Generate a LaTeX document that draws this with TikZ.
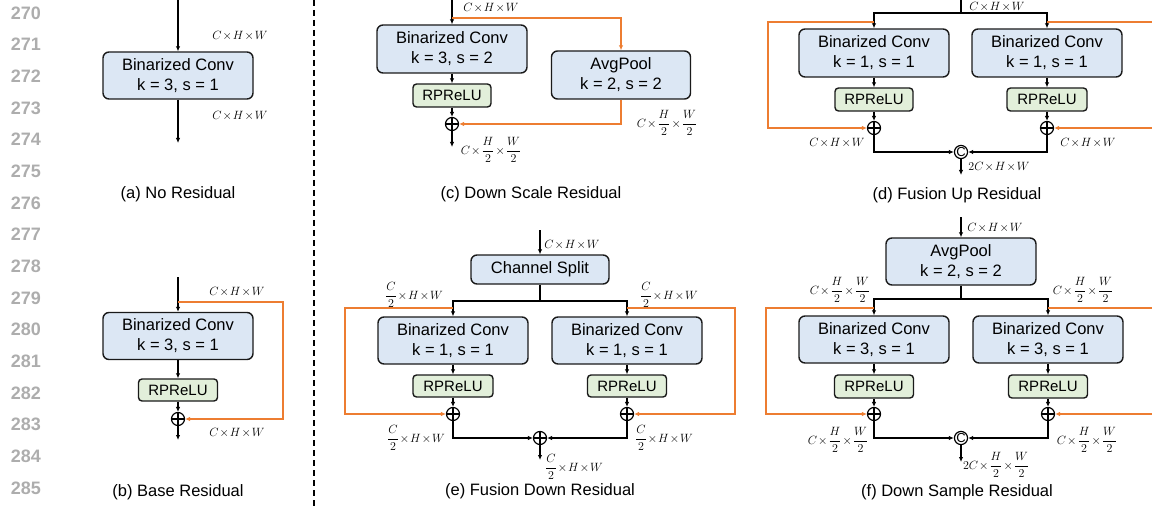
\documentclass[tikz,border=0pt]{standalone}
\usepackage{amsmath}
\usepackage{fontspec}
\setmainfont{Liberation Sans}
\usetikzlibrary{arrows.meta}
\definecolor{boxblue}{HTML}{DCE7F4}
\definecolor{boxgreen}{HTML}{E2EFDA}
\definecolor{orng}{HTML}{ED7D31}
\definecolor{edge}{HTML}{1A1A1A}
\newcommand\mytimes{\mkern1.5mu{\times}\mkern1.5mu}
\newcommand\dimCHW{$C\mytimes H\mytimes W$}
\newcommand\dimHalfC{$\dfrac{C}{2}\mytimes H\mytimes W$}
\newcommand\dimHalfHW{$C\mytimes\dfrac{H}{2}\mytimes\dfrac{W}{2}$}
\tikzset{
  conv/.style={draw=edge, fill=boxblue, rounded corners=6pt, line width=1.4pt, minimum width=150pt, minimum height=47pt, align=center, inner sep=0pt, font=\fontsize{16.5}{20}\selectfont},
  act/.style={draw=edge, fill=boxgreen, rounded corners=3.5pt, line width=1.4pt, minimum width=79pt, minimum height=22pt, inner sep=0pt, font=\fontsize{15}{18}\selectfont},
  addop/.style={circle, draw=black, line width=1.2pt, minimum size=13pt, inner sep=0pt,
    path picture={\draw[line width=1.2pt] (path picture bounding box.north) -- (path picture bounding box.south) (path picture bounding box.west) -- (path picture bounding box.east);}},
  catop/.style={circle, draw=black, line width=1.2pt, minimum size=13pt, inner sep=0pt, font=\fontsize{13}{13}\selectfont},
  arr/.style={-{Latex[length=5pt,width=4.5pt]}, line width=1.1pt, draw=black},
  plain/.style={line width=1.1pt, draw=black},
  oarr/.style={-{Latex[length=5pt,width=4.5pt]}, line width=1.3pt, draw=orng},
  oline/.style={line width=1.3pt, draw=orng},
  dim/.style={inner sep=0pt, font=\fontsize{12}{13}\selectfont},
  capt/.style={inner sep=0pt, font=\fontsize{16.5}{19}\selectfont},
  lnum/.style={inner sep=0pt, font=\fontsize{18}{20}\selectfont\bfseries, text=black!32},
}
\begin{document}
\begin{tikzpicture}[x=1pt,y=-1pt]
\path[use as bounding box] (0,0) rectangle (1152,508);
\clip (0,0) rectangle (1152,508);

% line numbers
\foreach \i in {0,...,15}{
  \pgfmathtruncatemacro\n{270+\i}
  \node[lnum] (ln\i) at (26,{13+31.67*\i}) {\n};
}

% divider
\draw[line width=1.2pt, dash pattern=on 6pt off 4pt] (314,0) -- (314,508);

% ---------- (a) ----------
\coordinate (aIn) at (178,0);
\coordinate (aOut) at (178,143);
\node[conv] (a1) at (178,75.5) {Binarized Conv\\k = 3, s = 1};
\draw[arr] (aIn) -- (a1);
\draw[arr] (a1) -- (aOut);
\node[dim] (aL1) at (240,36) {\dimCHW};
\node[dim] (aL2) at (240,116) {\dimCHW};
\node[capt] (aC) at (178,194) {(a) No Residual};

% ---------- (b) ----------
\coordinate (bIn) at (178,277);
\coordinate (bB) at (178,302);
\coordinate (bX) at (283,302);
\coordinate (bOut) at (178,440);
\node[conv] (b1) at (178,336) {Binarized Conv\\k = 3, s = 1};
\node[act] (b2) at (178,390) {RPReLU};
\node[addop] (b3) at (178,419) {};
\draw[arr] (bIn) -- (b1);
\draw[arr] (b1) -- (b2);
\draw[arr] (b2) -- (b3);
\draw[arr] (b3) -- (bOut);
\draw[oarr] (bB) -- (bX) |- (b3);
\node[dim] (bL1) at (237,292) {\dimCHW};
\node[dim] (bL2) at (237,433) {\dimCHW};
\node[capt] (bC) at (178,492) {(b) Base Residual};

% ---------- (c) ----------
\coordinate (cIn) at (452,0);
\coordinate (cB) at (452,18);
\coordinate (cOut) at (452,147);
\node[conv, minimum height=48pt] (c1) at (452,49) {Binarized Conv\\k = 3, s = 2};
\node[act, minimum width=78pt, minimum height=23pt] (c2) at (452,95.5) {RPReLU};
\node[addop] (c3) at (452,124) {};
\node[conv, minimum width=139pt, minimum height=48pt] (c4) at (621,75) {AvgPool\\k = 2, s = 2};
\draw[arr] (cIn) -- (c1);
\draw[arr] (c1) -- (c2);
\draw[arr] (c2) -- (c3);
\draw[arr] (c3) -- (cOut);
\draw[oarr] (cB) -| (c4);
\draw[oarr] (c4) |- (c3);
\node[dim] (cL1) at (491,7.5) {\dimCHW};
\node[dim] (cL2) at (667,123) {\dimHalfHW};
\node[dim] (cL3) at (491,150) {\dimHalfHW};
\node[capt] (cC) at (531,194) {(c) Down Scale Residual};

% ---------- (d) ----------
\coordinate (dIn) at (961,0);
\coordinate (dS) at (961,13);
\coordinate (dL) at (874,22);
\coordinate (dLx) at (768,128);
\coordinate (dR) at (1047,22);
\coordinate (dRe) at (1160,22);
\coordinate (dRb) at (1160,128);
\coordinate (dOut) at (961,175);
\node[conv, minimum height=48pt] (d1) at (874,53) {Binarized Conv\\k = 1, s = 1};
\node[conv, minimum height=48pt] (d2) at (1047,53) {Binarized Conv\\k = 1, s = 1};
\node[act, minimum width=78pt, minimum height=23pt] (d3) at (874,99.5) {RPReLU};
\node[act, minimum width=80pt, minimum height=23pt] (d4) at (1047,99.5) {RPReLU};
\node[addop] (d5) at (874,128) {};
\node[addop] (d6) at (1047,128) {};
\node[catop] (d7) at (961,152) {C};
\draw[plain] (dIn) -- (dS);
\draw[arr] (dS) -| (d1);
\draw[arr] (dS) -| (d2);
\draw[arr] (d1) -- (d3);
\draw[arr] (d2) -- (d4);
\draw[arr] (d3) -- (d5);
\draw[arr] (d4) -- (d6);
\draw[arr] (d5) |- (d7);
\draw[arr] (d6) |- (d7);
\draw[arr] (d7) -- (dOut);
\draw[oarr] (dL) -| (dLx) -- (d5);
\draw[oline] (dR) -- (dRe);
\draw[oarr] (dRb) -- (d6);
\node[dim] (dL0) at (997,7) {\dimCHW};
\node[dim] (dL1) at (837,143) {\dimCHW};
\node[dim] (dL2) at (1088,143) {\dimCHW};
\node[dim] (dL3) at (999,167) {$2C\mytimes H\mytimes W$};
\node[capt] (dC) at (957,195) {(d) Fusion Up Residual};

% ---------- (e) ----------
\coordinate (eIn) at (540,230);
\coordinate (eS) at (540,301);
\coordinate (eLo) at (453,308);
\coordinate (eLx) at (345,414);
\coordinate (eRo) at (627,308);
\coordinate (eRx) at (735,414);
\coordinate (eOut) at (540,460);
\node[conv, minimum width=138pt, minimum height=29pt] (e0) at (540,269.5) {Channel Split};
\node[conv] (e1) at (453,340.5) {Binarized Conv\\k = 1, s = 1};
\node[conv] (e2) at (627,340.5) {Binarized Conv\\k = 1, s = 1};
\node[act, minimum width=80pt] (e3) at (453,386) {RPReLU};
\node[act] (e4) at (627,386) {RPReLU};
\node[addop] (e5) at (453,414) {};
\node[addop] (e6) at (627,414) {};
\node[addop] (e7) at (540,438) {};
\draw[arr] (eIn) -- (e0);
\draw[plain] (e0) -- (eS);
\draw[arr] (eS) -| (e1);
\draw[arr] (eS) -| (e2);
\draw[arr] (e1) -- (e3);
\draw[arr] (e2) -- (e4);
\draw[arr] (e3) -- (e5);
\draw[arr] (e4) -- (e6);
\draw[arr] (e5) |- (e7);
\draw[arr] (e6) |- (e7);
\draw[arr] (e7) -- (eOut);
\draw[oarr] (eLo) -| (eLx) -- (e5);
\draw[oarr] (eRo) -| (eRx) -- (e6);
\node[dim] (eL0) at (572,245) {\dimCHW};
\node[dim] (eL1) at (414,295) {\dimHalfC};
\node[dim] (eL2) at (669,295) {\dimHalfC};
\node[dim] (eL3) at (416,438) {\dimHalfC};
\node[dim] (eL4) at (664,438) {\dimHalfC};
\node[dim] (eL5) at (574,467) {\dimHalfC};
\node[capt] (eC) at (540,491) {(e) Fusion Down Residual};

% ---------- (f) ----------
\coordinate (fIn) at (961,217);
\coordinate (fS) at (961,299);
\coordinate (fLo) at (874,308);
\coordinate (fLx) at (766,414);
\coordinate (fRo) at (1048,308);
\coordinate (fRe) at (1160,308);
\coordinate (fRb) at (1160,414);
\coordinate (fOut) at (961,462);
\node[conv] (f0) at (961,261.5) {AvgPool\\k = 2, s = 2};
\node[conv] (f1) at (874,339.5) {Binarized Conv\\k = 3, s = 1};
\node[conv] (f2) at (1048,339.5) {Binarized Conv\\k = 3, s = 1};
\node[act, minimum height=23pt] (f3) at (874,386.5) {RPReLU};
\node[act, minimum height=23pt] (f4) at (1048,386.5) {RPReLU};
\node[addop] (f5) at (874,414) {};
\node[addop] (f6) at (1048,414) {};
\node[catop] (f7) at (961,438) {C};
\draw[arr] (fIn) -- (f0);
\draw[plain] (f0) -- (fS);
\draw[arr] (fS) -| (f1);
\draw[arr] (fS) -| (f2);
\draw[arr] (f1) -- (f3);
\draw[arr] (f2) -- (f4);
\draw[arr] (f3) -- (f5);
\draw[arr] (f4) -- (f6);
\draw[arr] (f5) |- (f7);
\draw[arr] (f6) |- (f7);
\draw[arr] (f7) -- (fOut);
\draw[oarr] (fLo) -| (fLx) -- (f5);
\draw[oline] (fRo) -- (fRe);
\draw[oarr] (fRb) -- (f6);
\node[dim] (fL0) at (995,228) {\dimCHW};
\node[dim] (fL1) at (840,290) {\dimHalfHW};
\node[dim] (fL2) at (1083,290) {\dimHalfHW};
\node[dim] (fL3) at (838,440) {\dimHalfHW};
\node[dim] (fL4) at (1087,440) {\dimHalfHW};
\node[dim] (fL5) at (996,465) {$2C\mytimes\dfrac{H}{2}\mytimes\dfrac{W}{2}$};
\node[capt] (fC) at (957,492) {(f) Down Sample Residual};
\end{tikzpicture}
\end{document}
